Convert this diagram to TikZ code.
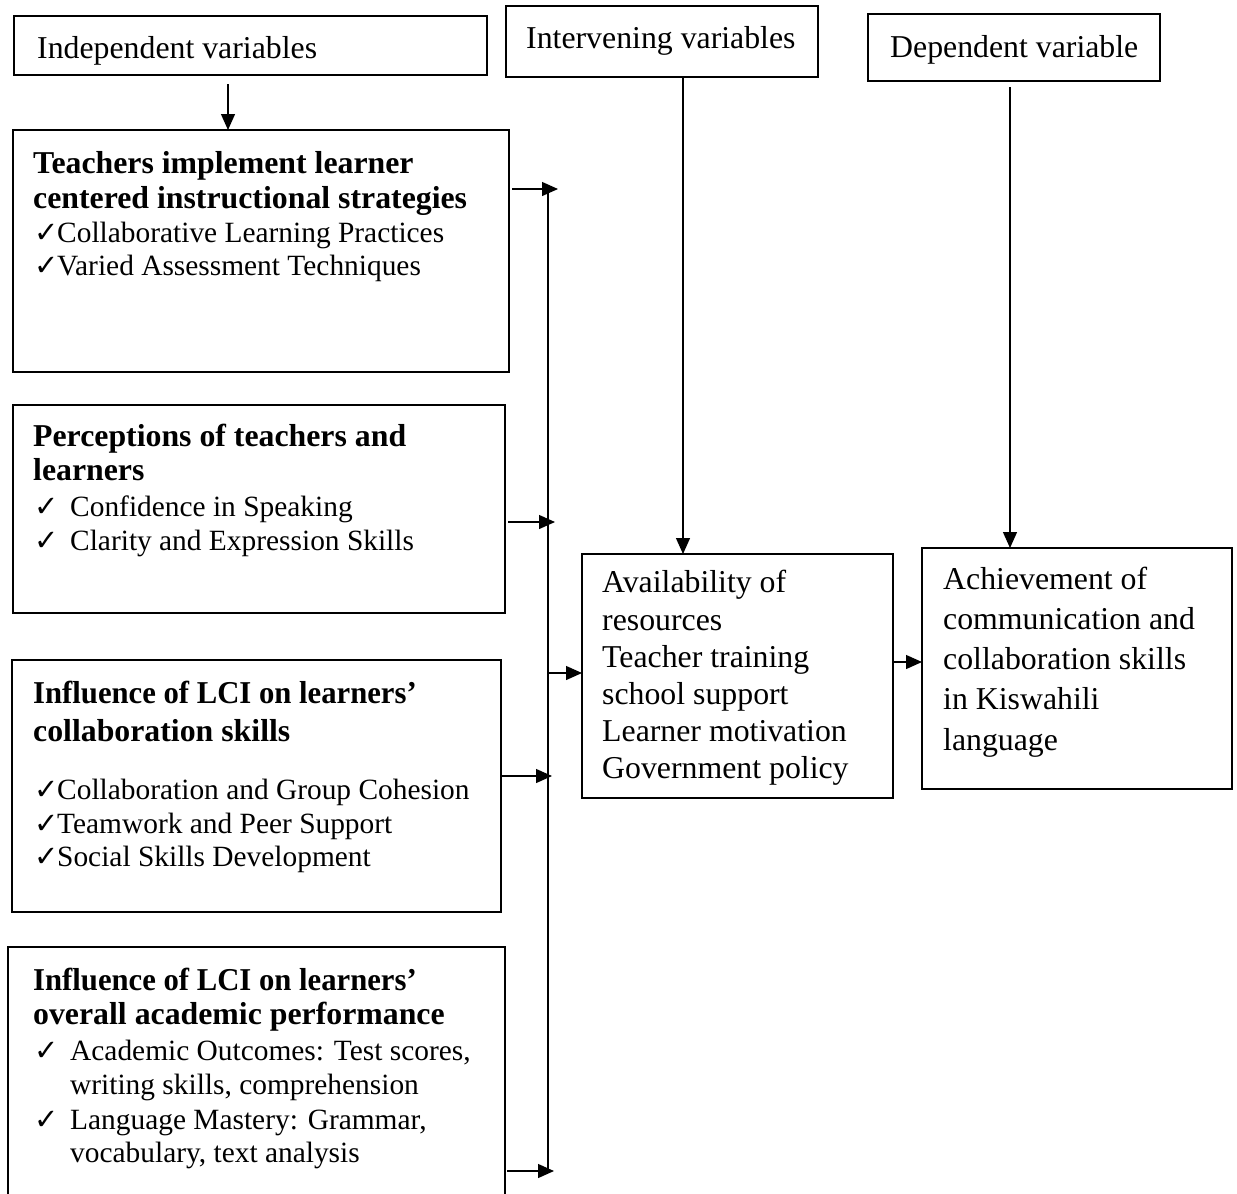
\documentclass[tikz,border=0pt]{standalone}
\usepackage{fontspec}
\setmainfont{Liberation Serif}
\newfontfamily\ckfont{DejaVu Sans}
\usetikzlibrary{arrows.meta}
\newcommand\ckm[1]{\hbox to #1{\ckfont\fontsize{29}{29}\selectfont ✓\hss}}
\begin{document}
\begin{tikzpicture}[x=1pt,y=-1pt,
  box/.style={draw, line width=1.4pt, inner sep=0pt, outer sep=0pt, anchor=north west},
  txt/.style={anchor=base west, inner sep=0pt, font=\fontsize{29.4}{34}\selectfont},
  hd/.style={anchor=base west, inner sep=0pt, font=\fontsize{31.8}{34}\selectfont\bfseries},
  big/.style={anchor=base west, inner sep=0pt, font=\fontsize{31.8}{37}\selectfont},
  lin/.style={line width=1.3pt},
  arr/.style={line width=1.3pt, -{Triangle[length=16pt,width=14pt]}}]
\useasboundingbox (0,0) rectangle (1237,1194);
\fill[white] (0,0) rectangle (1237,1194);

% header boxes
\node[box, minimum width=473pt, minimum height=59pt] (indep) at (14,16) {};
\node[box, minimum width=312pt, minimum height=71pt] (interv) at (506,6) {};
\node[box, minimum width=292pt, minimum height=67pt] (depv) at (868,14) {};
\node[big] (tindep) at (37,58) {Independent variables};
\node[big] (tinterv) at (526,48) {Intervening variables};
\node[big] (tdepv) at (890,57) {Dependent variable};

% left boxes
\node[box, minimum width=496pt, minimum height=242pt] (b1) at (13,130) {};
\node[box, minimum width=492pt, minimum height=208pt] (b2) at (13,405) {};
\node[box, minimum width=489pt, minimum height=252pt] (b3) at (12,660) {};
\node[box, minimum width=497pt, minimum height=270pt] (b4) at (8,947) {};

\node[hd] (t1a) at (33,173) {Teachers implement learner};
\node[hd] (t1b) at (33,208) {centered instructional strategies};
\node[txt] (t1c) at (34,242) {\ckm{23pt}Collaborative Learning Practices};
\node[txt] (t1d) at (34,275) {\ckm{23pt}Varied Assessment Techniques};

\node[hd] (t2a) at (33,446) {Perceptions of teachers and};
\node[hd] (t2b) at (33,480) {learners};
\node[txt] (t2c) at (34,516) {\ckm{36pt}Confidence in Speaking};
\node[txt] (t2d) at (34,550) {\ckm{36pt}Clarity and Expression Skills};

\node[hd, xscale=0.965] (t3a) at (33,703) {Influence of LCI on learners’};
\node[hd] (t3b) at (33,741) {collaboration skills};
\node[txt] (t3c) at (34,799) {\ckm{23pt}Collaboration and Group Cohesion};
\node[txt] (t3d) at (34,833) {\ckm{23pt}Teamwork and Peer Support};
\node[txt] (t3e) at (34,866) {\ckm{23pt}Social Skills Development};

\node[hd, xscale=0.965] (t4a) at (33,990) {Influence of LCI on learners’};
\node[hd] (t4b) at (33,1024) {overall academic performance};
\node[txt] (t4c) at (34,1060) {\ckm{36pt}Academic Outcomes: Test scores,};
\node[txt] (t4d) at (70,1094) {writing skills, comprehension};
\node[txt] (t4e) at (34,1129) {\ckm{36pt}Language Mastery: Grammar,};
\node[txt] (t4f) at (70,1162) {vocabulary, text analysis};

% middle and right boxes
\node[box, minimum width=311pt, minimum height=244pt] (mid) at (582,554) {};
\node[box, minimum width=310pt, minimum height=241pt] (res) at (922,548) {};

\node[big] (m1) at (602,592) {Availability of};
\node[big] (m2) at (602,630) {resources};
\node[big] (m3) at (602,667) {Teacher training};
\node[big] (m4) at (602,704) {school support};
\node[big] (m5) at (602,741) {Learner motivation};
\node[big] (m6) at (602,778) {Government policy};

\node[big] (r1) at (943,589) {Achievement of};
\node[big] (r2) at (943,629) {communication and};
\node[big] (r3) at (943,669) {collaboration skills};
\node[big] (r4) at (943,709) {in Kiswahili};
\node[big] (r5) at (943,750) {language};

% connectors
\coordinate (s1) at (228,84);
\coordinate (s2) at (683,77);
\coordinate (s3) at (1010,87);
\draw[arr] (s1) -- (s1 |- b1.north);
\draw[arr] (s2) -- (s2 |- mid.north);
\draw[arr] (s3) -- (s3 |- res.north);

\coordinate (bt) at (548,189);
\coordinate (bm) at (548,522);
\coordinate (bn) at (548,776);
\coordinate (bb) at (548,1171);
\coordinate (bx) at (548,673);
\draw[lin] (bt) -- (bb);
\draw[arr] ([xshift=3pt]b1.east |- bt) -- ([xshift=10pt]bt);
\draw[arr] ([xshift=3pt]b2.east |- bm) -- ([xshift=7pt]bm);
\draw[arr] ([xshift=0pt]b3.east |- bn) -- ([xshift=4pt]bn);
\draw[arr] ([xshift=2pt]b4.east |- bb) -- ([xshift=6pt]bb);
\draw[arr] (bx) -- (bx -| mid.west);
\coordinate (mr) at (893,662);
\draw[arr] (mr) -- (mr -| res.west);
\end{tikzpicture}
\end{document}
